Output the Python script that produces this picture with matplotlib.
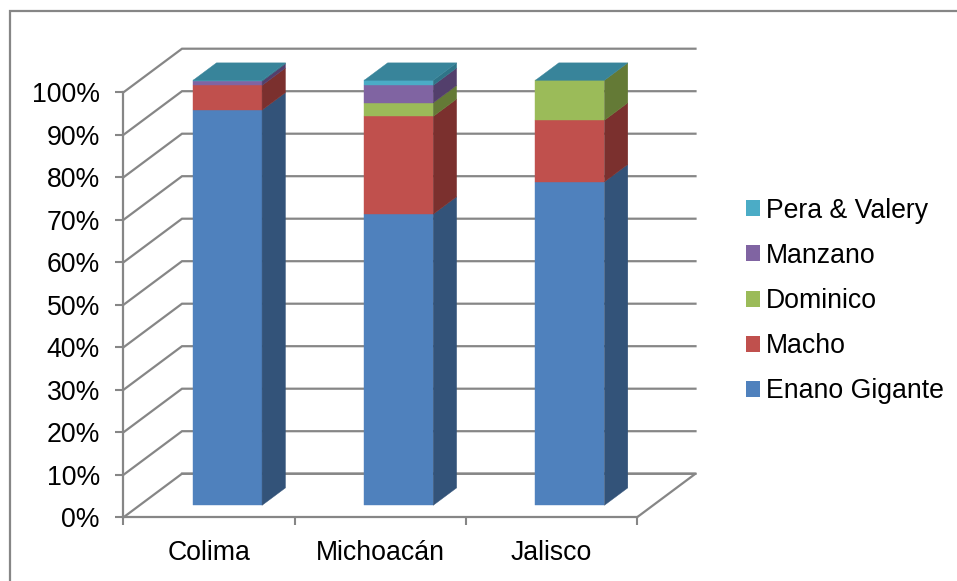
# Stacked 100% columns with a fake 3D look: every point gets sheared backwards by its depth
import matplotlib
matplotlib.use('Agg')
import matplotlib.lines as mlines
import matplotlib.pyplot as plt
from matplotlib.patches import Patch, Polygon

plt.rcParams['font.family'] = ['Liberation Sans', 'DejaVu Sans']

regions = ['Colima', 'Michoacán', 'Jalisco']
series_names = ['Enano Gigante', 'Macho', 'Dominico', 'Manzano', 'Pera & Valery']
enano = [93.0, 68.5, 76.1]
macho = [5.8, 23.0, 14.5]
dominico = [0.0, 3.2, 9.4]
manzano = [1.0, 4.1, 0.0]
pera = [0.2, 1.2, 0.0]
series = [enano, macho, dominico, manzano, pera]
y_ticks = list(range(0, 101, 10))

front = ['#4F81BD', '#C0504D', '#9BBB59', '#8064A2', '#4BACC6']
side = ['#335379', '#7B302E', '#647A36', '#533F6C', '#2F7488']
top_color = '#38849A'
grid_color = '#868686'

W, H = 957, 581
fig = plt.figure(figsize=(W / 100, H / 100), dpi=100)

# axes box is the front plane of the plot
left, right, bottom, top = 123.5, 637.0, 517.3, 92.3
ax = fig.add_axes([left / W, 1 - bottom / H, (right - left) / W, (bottom - top) / H])
ax.set_xlim(0, 3)
ax.set_ylim(0, 100)
ax.patch.set_visible(False)

# full depth of the box in data units
depth_x = 58.5 / ((right - left) / 3)
depth_y = 43.6 / ((bottom - top) / 100)


def project(x, y, z):
    return x + z * depth_x, y + z * depth_y


# walls and gridlines
for t in y_ticks:
    pts = [project(0, t, 0), project(0, t, 1), project(3, t, 1)]
    ax.plot(*zip(*pts), color=grid_color, lw=1.6, clip_on=False, zorder=1,
            solid_joinstyle='miter')
floor = [project(0, 0, 1), project(3, 0, 1), project(3, 0, 0), project(0, 0, 0)]
ax.plot(*zip(*floor[:3]), color=grid_color, lw=1.6, clip_on=False, zorder=1)

bar_width = 0.403
bar_shift = 0.014
z0, z1 = 0.275, 0.675


def quad(points, color):
    ax.add_patch(Polygon(points, closed=True, facecolor=color, edgecolor=color, lw=0.3,
                         clip_on=False, zorder=3))


for i, region in enumerate(regions):
    x0 = i + 0.5 + bar_shift - bar_width / 2
    x1 = x0 + bar_width
    base = 0
    for vals, c_front, c_side in zip(series, front, side):
        v = vals[i]
        if v <= 0:
            continue
        quad([project(x0, base, z0), project(x1, base, z0),
              project(x1, base + v, z0), project(x0, base + v, z0)], c_front)
        quad([project(x1, base, z0), project(x1, base, z1),
              project(x1, base + v, z1), project(x1, base + v, z0)], c_side)
        base += v
    quad([project(x0, base, z0), project(x1, base, z0),
          project(x1, base, z1), project(x0, base, z1)], top_color)

for name in ['top', 'right']:
    ax.spines[name].set_visible(False)
for name in ['left', 'bottom']:
    ax.spines[name].set_color(grid_color)
    ax.spines[name].set_linewidth(1.6)
    ax.spines[name].set_zorder(2)

ax.set_yticks(y_ticks)
ax.set_yticklabels([f'{t}%' for t in y_ticks])
ax.set_xticks([0, 1, 2, 3])
ax.set_xticklabels([])
ax.set_xticks([0.5, 1.5, 2.5], minor=True)
ax.set_xticklabels(regions, minor=True)
ax.tick_params(axis='x', which='major', length=6, width=1.5, color=grid_color)
ax.tick_params(axis='x', which='minor', length=0, labelsize=19.2, pad=16)
ax.tick_params(axis='y', length=6, width=1.5, color=grid_color, labelsize=19.2, pad=11)

handles = [Patch(facecolor=c, label=n) for c, n in zip(front, series_names)]
fig.legend(handles=handles[::-1], loc='center left', bbox_to_anchor=(746 / W, 1 - 301 / H),
           frameon=False, fontsize=19.2, handlelength=0.54, handleheight=0.54,
           handletextpad=0.2, labelspacing=0.72, borderpad=0, borderaxespad=0)

# chart frame only shows on its top and left sides
frame_x, frame_y = 10 / W, 1 - 11 / H
fig.add_artist(mlines.Line2D([frame_x, frame_x, 1], [0, frame_y, frame_y], color=grid_color,
                             lw=1.6, transform=fig.transFigure, solid_joinstyle='miter'))

fig.savefig('out.png', dpi=100)
